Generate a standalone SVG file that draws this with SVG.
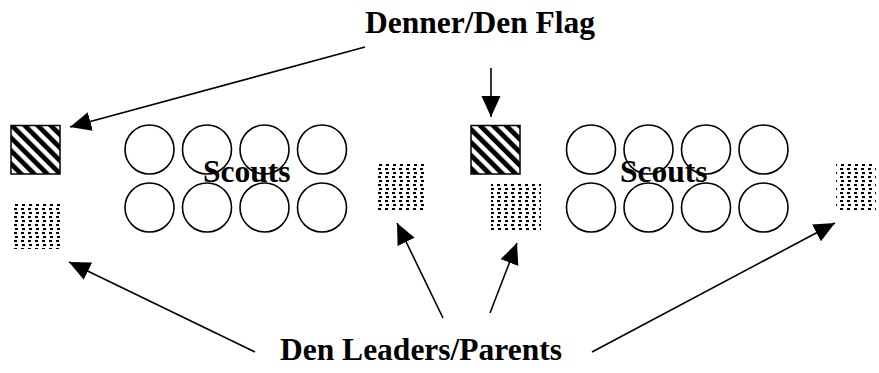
<svg xmlns="http://www.w3.org/2000/svg" width="879" height="373" viewBox="0 0 879 373">
  <style>
    .lbl { font-family: "Liberation Serif", "Times New Roman", serif; font-weight: bold; font-size: 31.5px; fill: #000; }
    .scout { fill: none; stroke: #000; stroke-width: 1.6; }
    .flag { fill: url(#stripes); stroke: #000; stroke-width: 1.5; }
    .leader { fill: url(#dots); stroke: none; shape-rendering: crispEdges; }
    .conn { stroke: #000; stroke-width: 1.6; fill: none; marker-end: url(#arrow); }
  </style>
  <defs>
    <pattern id="stripes" patternUnits="userSpaceOnUse" width="9.2" height="9.2" patternTransform="rotate(-45)">
      <rect x="0" y="0" width="9.2" height="9.2" fill="#fff"/>
      <rect x="0" y="0" width="4.8" height="9.2" fill="#000"/>
    </pattern>
    <pattern id="dots" patternUnits="userSpaceOnUse" width="7" height="8" x="0" y="0">
      <rect x="0" y="0" width="3" height="2" fill="#000" shape-rendering="crispEdges"/>
      <rect x="1" y="4" width="3" height="2" fill="#000" shape-rendering="crispEdges"/>
    </pattern>
    <marker id="arrow" markerUnits="userSpaceOnUse" markerWidth="22" markerHeight="20" refX="21" refY="9.5" orient="auto">
      <path d="M0,0 L21,9.5 L0,19 z" fill="#000"/>
    </marker>
  </defs>

  <g id="label-flag"><text class="lbl" x="365" y="33">Denner/Den Flag</text></g>
  <g id="label-leaders"><text class="lbl" x="280" y="360">Den Leaders/Parents</text></g>

  <g id="flag-left"><rect class="flag" x="11" y="125.5" width="49" height="48.5"/></g>
  <g id="flag-right"><rect class="flag" x="471" y="125.5" width="49" height="48.5"/></g>

  <g id="leader-1"><rect class="leader" x="12" y="204" width="50" height="45"/></g>
  <g id="leader-2"><rect class="leader" x="376" y="164" width="49" height="48"/></g>
  <g id="leader-3"><rect class="leader" x="491" y="183" width="50" height="48"/></g>
  <g id="leader-4"><rect class="leader" x="836" y="163" width="40" height="47"/></g>

  <g id="scouts-left">
    <text class="lbl" x="203" y="182">Scouts</text>
    <circle class="scout" cx="149.5" cy="149.5" r="24.5"/>
    <circle class="scout" cx="207" cy="149.5" r="24.5"/>
    <circle class="scout" cx="264.5" cy="149.5" r="24.5"/>
    <circle class="scout" cx="322" cy="149.5" r="24.5"/>
    <circle class="scout" cx="149.5" cy="207.5" r="24.5"/>
    <circle class="scout" cx="207" cy="207.5" r="24.5"/>
    <circle class="scout" cx="264.5" cy="207.5" r="24.5"/>
    <circle class="scout" cx="322" cy="207.5" r="24.5"/>
  </g>

  <g id="scouts-right">
    <text class="lbl" x="620" y="182">Scouts</text>
    <circle class="scout" cx="591" cy="149.5" r="24.5"/>
    <circle class="scout" cx="648.5" cy="149.5" r="24.5"/>
    <circle class="scout" cx="706" cy="149.5" r="24.5"/>
    <circle class="scout" cx="763.5" cy="149.5" r="24.5"/>
    <circle class="scout" cx="591" cy="207.5" r="24.5"/>
    <circle class="scout" cx="648.5" cy="207.5" r="24.5"/>
    <circle class="scout" cx="706" cy="207.5" r="24.5"/>
    <circle class="scout" cx="763.5" cy="207.5" r="24.5"/>
  </g>

  <g id="connectors">
    <line class="conn" x1="365" y1="47" x2="70" y2="127"/>
    <line class="conn" x1="491" y1="68" x2="491" y2="117"/>
    <line class="conn" x1="255" y1="352" x2="69" y2="262"/>
    <line class="conn" x1="443" y1="318" x2="397" y2="223"/>
    <line class="conn" x1="490" y1="313" x2="517" y2="243"/>
    <line class="conn" x1="592" y1="352" x2="835" y2="223"/>
  </g>
</svg>
